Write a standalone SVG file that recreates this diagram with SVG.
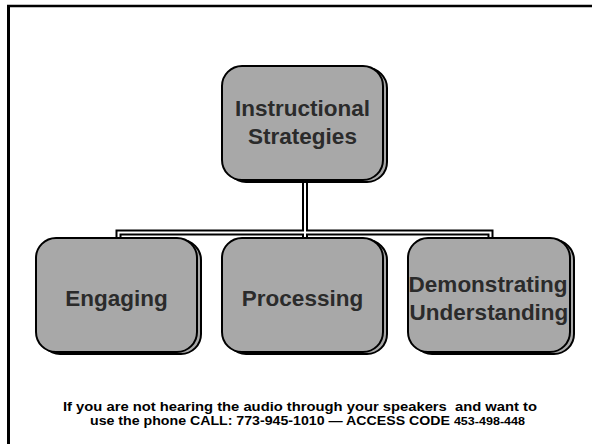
<svg xmlns="http://www.w3.org/2000/svg" width="592" height="444" viewBox="0 0 592 444">
<style>
.box{fill:#a8a8a8;stroke:#000;stroke-width:2}
.lbl{font-family:"Liberation Sans",Arial,sans-serif;font-weight:bold;font-size:22.5px;fill:#2b2b2b;text-anchor:middle}
.note{font-family:"Liberation Sans",Arial,sans-serif;font-weight:bold;font-size:13px;fill:#000}
.cOut{fill:none;stroke:#000;stroke-width:6}
.cIn{fill:none;stroke:#fff;stroke-width:2}
</style>
<rect width="592" height="444" fill="#fff"/>
<g id="frame">
<line x1="7" y1="6" x2="592" y2="6" stroke="#000" stroke-width="2.5"/>
<line x1="8.5" y1="5" x2="8.5" y2="444" stroke="#000" stroke-width="3"/>
</g>
<g id="connectors">
<path class="cOut" d="M305 180 V232.5 M118.5 238 V232.5 H490.5 V238 M305 232.5 V238"/>
<path class="cIn" d="M305 180 V232.5 M118.5 238 V232.5 H490.5 V238 M305 232.5 V238"/>
</g>
<g id="n-instructional">
<rect class="box" x="226" y="68" width="161" height="114" rx="20"/>
<rect class="box" x="222" y="66" width="161" height="114" rx="20"/>
<text class="lbl" x="302.5" y="116">Instructional</text>
<text class="lbl" x="302.5" y="144">Strategies</text>
</g>
<g id="n-engaging">
<rect class="box" x="40" y="240" width="161" height="114" rx="20"/>
<rect class="box" x="36" y="238" width="161" height="114" rx="20"/>
<text class="lbl" x="116.5" y="306">Engaging</text>
</g>
<g id="n-processing">
<rect class="box" x="226" y="240" width="161" height="114" rx="20"/>
<rect class="box" x="222" y="238" width="161" height="114" rx="20"/>
<text class="lbl" x="302.5" y="306">Processing</text>
</g>
<g id="n-demonstrating">
<rect class="box" x="412" y="240" width="162" height="114" rx="20"/>
<rect class="box" x="408" y="238" width="162" height="114" rx="20"/>
<text class="lbl" x="488" y="292">Demonstrating</text>
<text class="lbl" x="489" y="320">Understanding</text>
</g>
<g id="footer">
<text class="note" x="63" y="410.5" xml:space="preserve" textLength="474" lengthAdjust="spacingAndGlyphs">If you are not hearing the audio through your speakers  and want to</text>
<text class="note" x="90" y="425" textLength="435" lengthAdjust="spacingAndGlyphs">use the phone CALL: 773-945-1010 — ACCESS CODE <tspan font-size="11.5px">453-498-448</tspan></text>
</g>
</svg>
